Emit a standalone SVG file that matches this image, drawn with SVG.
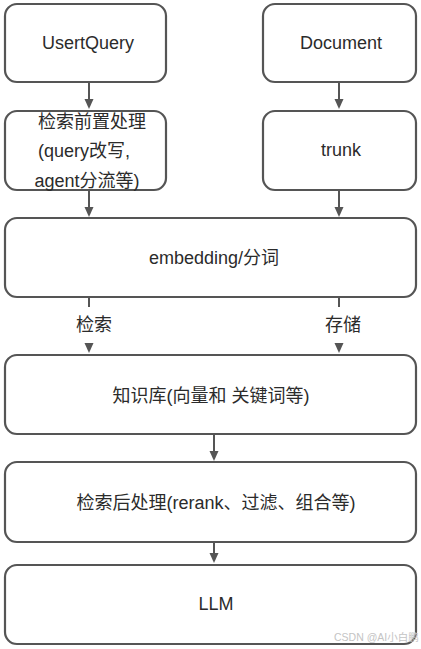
<svg xmlns="http://www.w3.org/2000/svg" width="421" height="649" viewBox="0 0 421 649">
<style>
.box{fill:#fff;stroke:#555;stroke-width:2.2}
.t{font-family:"Liberation Sans","Noto Sans CJK SC",sans-serif;font-size:18px;fill:#2b2b2b;text-anchor:middle}
.ln{stroke:#555;stroke-width:2;fill:none}
.ah{fill:#555}
.wm{font-family:"Liberation Sans","Noto Sans CJK SC",sans-serif;font-size:10.5px;fill:#c4c4c4}
</style>
<rect width="421" height="649" fill="#fff"/>
<g id="connectors">
<line class="ln" x1="89" y1="82" x2="89" y2="100"/><path class="ah" d="M84.5,99 L93.5,99 L89,109 Z"/>
<line class="ln" x1="339" y1="82" x2="339" y2="100"/><path class="ah" d="M334.5,99 L343.5,99 L339,109 Z"/>
<line class="ln" x1="89" y1="190" x2="89" y2="208"/><path class="ah" d="M84.5,207 L93.5,207 L89,217 Z"/>
<line class="ln" x1="339" y1="190" x2="339" y2="208"/><path class="ah" d="M334.5,207 L343.5,207 L339,217 Z"/>
<line class="ln" x1="89" y1="297" x2="89" y2="307"/><path class="ah" d="M84.5,343 L93.5,343 L89,353 Z"/>
<line class="ln" x1="339" y1="297" x2="339" y2="307"/><path class="ah" d="M334.5,343 L343.5,343 L339,353 Z"/>
<text class="t" x="94" y="331">检索</text>
<text class="t" x="343" y="331">存储</text>
<line class="ln" x1="214" y1="434" x2="214" y2="452"/><path class="ah" d="M209.5,451 L218.5,451 L214,461 Z"/>
<line class="ln" x1="214" y1="542" x2="214" y2="554"/><path class="ah" d="M209.5,553 L218.5,553 L214,563 Z"/>
</g>
<g id="userquery"><rect class="box" x="5" y="4" width="161" height="78" rx="12"/><text class="t" x="88" y="49">UsertQuery</text></g>
<g id="document"><rect class="box" x="263" y="4" width="153" height="78" rx="12"/><text class="t" x="341" y="49">Document</text></g>
<g id="preprocess"><rect class="box" x="5" y="111" width="161" height="79" rx="12"/>
<text class="t" x="92" y="128">检索前置处理</text>
<text class="t" x="84" y="157">(query改写,</text>
<text class="t" x="87" y="187">agent分流等)</text></g>
<g id="trunk"><rect class="box" x="263" y="111" width="153" height="79" rx="12"/><text class="t" x="341" y="156">trunk</text></g>
<g id="embedding"><rect class="box" x="5" y="218" width="411" height="79" rx="12"/><text class="t" x="214" y="264">embedding/分词</text></g>
<g id="kb"><rect class="box" x="5" y="355" width="411" height="79" rx="12"/><text class="t" x="211" y="402">知识库(向量和 关键词等)</text></g>
<g id="postprocess"><rect class="box" x="5" y="462" width="411" height="80" rx="12"/><text class="t" x="216" y="509">检索后处理(rerank、过滤、组合等)</text></g>
<g id="llm"><rect class="box" x="5" y="565" width="411" height="79" rx="12"/><text class="t" x="216" y="610">LLM</text></g>
<text class="wm" x="334" y="641">CSDN @AI小白鹏</text>
</svg>
